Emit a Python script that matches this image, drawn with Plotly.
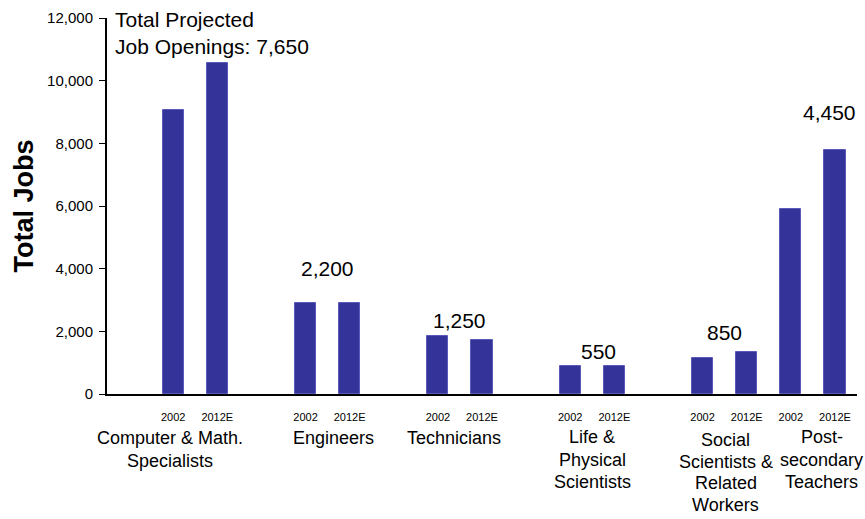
import plotly.graph_objects as go

categories = ["Computer & Math.<br>Specialists", "Engineers", "Technicians",
              "Life &<br>Physical<br>Scientists",
              "Social<br>Scientists &<br>Related<br>Workers",
              "Post-<br>secondary<br>Teachers"]
years = ["2002", "2012E"]
jobs_2002 = [9050, 2900, 1850, 900, 1150, 5900]
jobs_2012 = [10550, 2900, 1720, 900, 1350, 7800]
openings = ["Total Projected<br>Job Openings: 7,650", "2,200", "1,250", "550", "850", "4,450"]
y_ticks = [0, 2000, 4000, 6000, 8000, 10000, 12000]

# layout (slot positions on the category axis)
group_start = [1, 4, 7, 10, 13, 15]
x02 = [g for g in group_start]
x12 = [g + 1 for g in group_start]
cat_xshift = [-25, 6, -6, 0, 1, 9]
cat_first_line = [-44, -44, -44, -43, -46, -43]
line_gap = [22.5, 22.5, 22.5, 22.5, 21.5, 22.5]
open_xshift = [0, 0, 0, 6, 0, 17]
open_yshift = [0, 35, 16, 14, 19, 37]

FONT = "Arial, Liberation Sans, sans-serif"
BAR = "#333399"
fig = go.Figure()
fig.add_trace(go.Bar(x=x02, y=jobs_2002, width=0.48, marker=dict(color=BAR, line=dict(color="#5a5ab8", width=1)), showlegend=False, hoverinfo="y"))
fig.add_trace(go.Bar(x=x12, y=jobs_2012, width=0.48, marker=dict(color=BAR, line=dict(color="#5a5ab8", width=1)), showlegend=False, hoverinfo="y"))

tickvals = []
ticktext = []
for a, b in zip(x02, x12):
    tickvals += [a, b]
    ticktext += years

annotations = []
for i, cat in enumerate(categories):
    cx = (x02[i] + x12[i]) / 2
    for k, line in enumerate(cat.split("<br>")):
        annotations.append(dict(x=cx, y=0, xref="x", yref="paper", text=line, showarrow=False,
                                xanchor="center", yanchor="middle", xshift=cat_xshift[i],
                                yshift=cat_first_line[i] - k * line_gap[i], borderpad=0,
                                font=dict(family=FONT, size=18, color="black")))
    if i == 0:
        annotations.append(dict(x=0, y=1.0, xref="paper", yref="paper", text=openings[i], showarrow=False,
                                xanchor="left", yanchor="top", xshift=6, yshift=12, align="left",
                                font=dict(family=FONT, size=21, color="black")))
    else:
        top = max(jobs_2002[i], jobs_2012[i])
        annotations.append(dict(x=cx, y=top, xref="x", yref="y", text=openings[i], showarrow=False,
                                xanchor="center", yanchor="middle", xshift=open_xshift[i], yshift=open_yshift[i],
                                font=dict(family=FONT, size=21, color="black")))

fig.update_layout(
    width=865, height=519,
    margin=dict(l=107, r=8, t=18, b=125),
    paper_bgcolor="white", plot_bgcolor="white",
    bargap=0,
    annotations=annotations,
    font=dict(family=FONT, color="black"),
    xaxis=dict(range=[-0.5, 16.5], tickvals=tickvals, ticktext=ticktext, showgrid=False,
               showline=True, linecolor="black", linewidth=2, ticks="", zeroline=False,
               tickfont=dict(size=11, family="Liberation Sans Narrow, Arial, sans-serif"),
               ticklabelstandoff=12),
    yaxis=dict(range=[0, 12000], tickvals=y_ticks, tickformat=",d", showgrid=False,
               showline=True, linecolor="black", linewidth=2, ticks="outside", ticklen=6,
               tickcolor="black", tickwidth=1, zeroline=False,
               tickfont=dict(size=15), ticklabelstandoff=3,
               title=dict(text="<b>Total Jobs</b>", font=dict(size=27), standoff=6)),
)

fig.write_html("out.html")
